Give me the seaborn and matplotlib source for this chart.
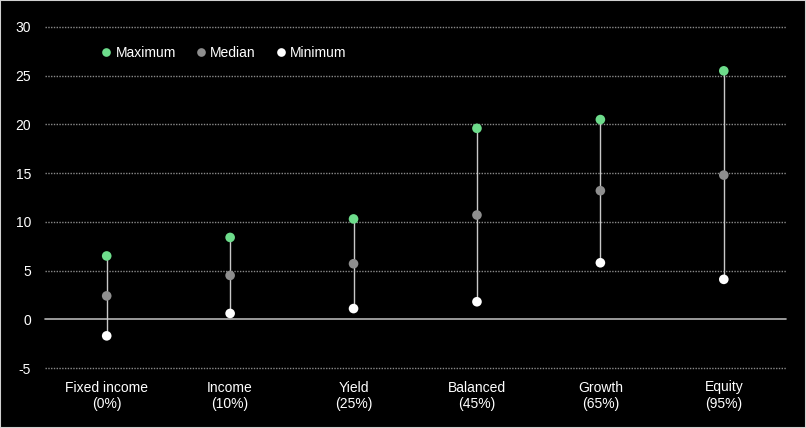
import matplotlib
matplotlib.use("Agg")
import matplotlib.pyplot as plt
import seaborn as sns
import pandas as pd
from matplotlib.patches import Rectangle

categories = ["Fixed income\n(0%)", "Income\n(10%)", "Yield\n(25%)",
              "Balanced\n(45%)", "Growth\n(65%)", "Equity\n(95%)"]
maximum = [6.5, 8.4, 10.3, 19.6, 20.5, 25.5]
median = [2.4, 4.5, 5.7, 10.7, 13.2, 14.8]
minimum = [-1.7, 0.6, 1.1, 1.8, 5.8, 4.1]
yticks = [-5, 0, 5, 10, 15, 20, 25, 30]

sns.set_theme(style="dark")
plt.rcParams['font.family'] = ['Liberation Sans', 'DejaVu Sans']
plt.rcParams['axes.unicode_minus'] = False

fig = plt.figure(figsize=(8.06, 4.28), dpi=100, facecolor="black")
ax = fig.add_axes([45/806, 1 - 368/428, (785.5-45)/806, (368-27)/428])
ax.set_facecolor("black")

df = pd.DataFrame({
    "cat": list(range(len(categories))) * 3,
    "value": maximum + median + minimum,
    "stat": ["Maximum"] * 6 + ["Median"] * 6 + ["Minimum"] * 6,
})

for y in yticks:
    if y == 0:
        ax.axhline(0, color="#b5b5b5", lw=1.2, zorder=1, clip_on=False)
    else:
        ax.axhline(y, color="#8a8a8a", lw=1.0, ls=(0, (1, 1)), zorder=1, clip_on=False)

ax.vlines(range(len(categories)), minimum, maximum, color="#c8c8c8", lw=1.0, zorder=2)

palette = {"Maximum": "#6ddc8b", "Median": "#8e8e8e", "Minimum": "#ffffff"}
sns.scatterplot(data=df, x="cat", y="value", hue="stat", palette=palette,
                s=48, edgecolor="none", ax=ax, zorder=3)

ax.set_xlim(-0.5, len(categories) - 0.5)
ax.set_ylim(-5, 30)
ax.set_xticks(range(len(categories)))
ax.set_xticklabels(categories)
ax.set_yticks(yticks)
ax.set_yticklabels([str(t) for t in yticks])
ax.tick_params(axis="both", colors="white", labelsize=10, length=0)
ax.tick_params(axis="y", pad=10)
ax.tick_params(axis="x", pad=9)
for lab in ax.get_xticklabels() + ax.get_yticklabels():
    lab.set_color("white")
ax.set_xlabel("")
ax.set_ylabel("")
ax.grid(False)
for sp in ax.spines.values():
    sp.set_visible(False)

leg = ax.legend(loc="center", bbox_to_anchor=(0.242, 0.924), ncol=3, frameon=False,
                handlelength=0.6, handletextpad=0.35, columnspacing=1.5,
                fontsize=10, markerscale=0.9, borderaxespad=0)
for t in leg.get_texts():
    t.set_color("white")

fig.patches.append(Rectangle((0, 0), 1, 1, transform=fig.transFigure, fill=False,
                             edgecolor="#d0d0d0", lw=1.5))

fig.savefig("out.png", dpi=100, facecolor="black")
